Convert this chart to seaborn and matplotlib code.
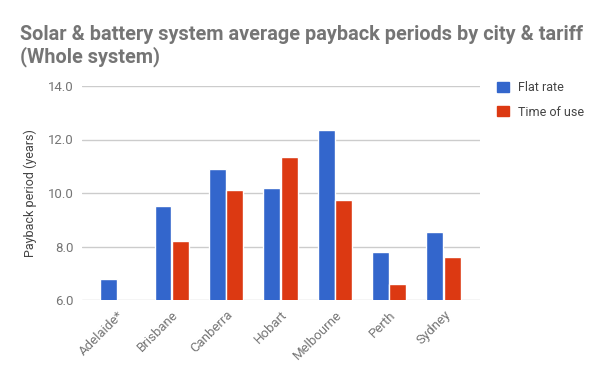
import numpy as np
import pandas as pd
import matplotlib
matplotlib.use("Agg")
import matplotlib.pyplot as plt
import seaborn as sns
from matplotlib.patches import Patch

cities = ["Adelaide*", "Brisbane", "Canberra", "Hobart", "Melbourne", "Perth", "Sydney"]
flat_rate = [6.8, 9.5, 10.9, 10.2, 12.35, 7.8, 8.55]
time_of_use = [np.nan, 8.2, 10.1, 11.35, 9.75, 6.6, 7.6]
series_names = ["Flat rate", "Time of use"]
colors = ["#3366CC", "#DC3912"]
yticks = [6.0, 8.0, 10.0, 12.0, 14.0]

df = pd.DataFrame({
    "city": cities * 2,
    "tariff": [series_names[0]] * len(cities) + [series_names[1]] * len(cities),
    "value": flat_rate + time_of_use,
})

sns.set_theme(style="white")
plt.rcParams["font.family"] = ["Roboto", "DejaVu Sans"]

fig = plt.figure(figsize=(6, 3.71), dpi=100)
ax = fig.add_axes([82/600, 71/371, 398/600, 214/371])

sns.barplot(data=df, x="city", y="value", hue="tariff", palette=colors,
            width=0.64, gap=0.03, ax=ax, legend=False, saturation=1)
ax.set_ylim(6, 14)
ax.set_xlim(-0.65, 6.67)
ax.set_yticks(yticks)
ax.set_yticklabels([f"{t:.1f}" for t in yticks], color="#757575", fontsize=9.5)
ax.yaxis.grid(True, color="#cccccc", linewidth=1)
ax.set_axisbelow(True)
for s in ax.spines.values():
    s.set_visible(False)
ax.tick_params(axis="both", length=0, pad=6)
ax.set_xlabel("")
ax.set_ylabel("Payback period (years)", color="#444444", fontsize=9, labelpad=8)
for lab in ax.get_xticklabels():
    lab.set_rotation(45)
    lab.set_ha("right")
    lab.set_rotation_mode("anchor")
    lab.set_color("#757575")
    lab.set_fontsize(9.5)

fig.text(20/600, 1 - 40/371, "Solar & battery system average payback periods by city & tariff",
         fontsize=14.3, fontweight="bold", color="#757575", ha="left", va="baseline")
fig.text(20/600, 1 - 62/371, "(Whole system)",
         fontsize=14.3, fontweight="bold", color="#757575", ha="left", va="baseline")

handles = [Patch(facecolor=c, edgecolor=c) for c in colors]
leg = fig.legend(handles, series_names, loc="upper left",
                 bbox_to_anchor=(486/600, 1 - 70/371), frameon=False,
                 fontsize=9, handlelength=0.9, handleheight=0.9,
                 labelspacing=0.9, handletextpad=0.8, labelcolor="#444444")

fig.savefig("out.png", dpi=100)
